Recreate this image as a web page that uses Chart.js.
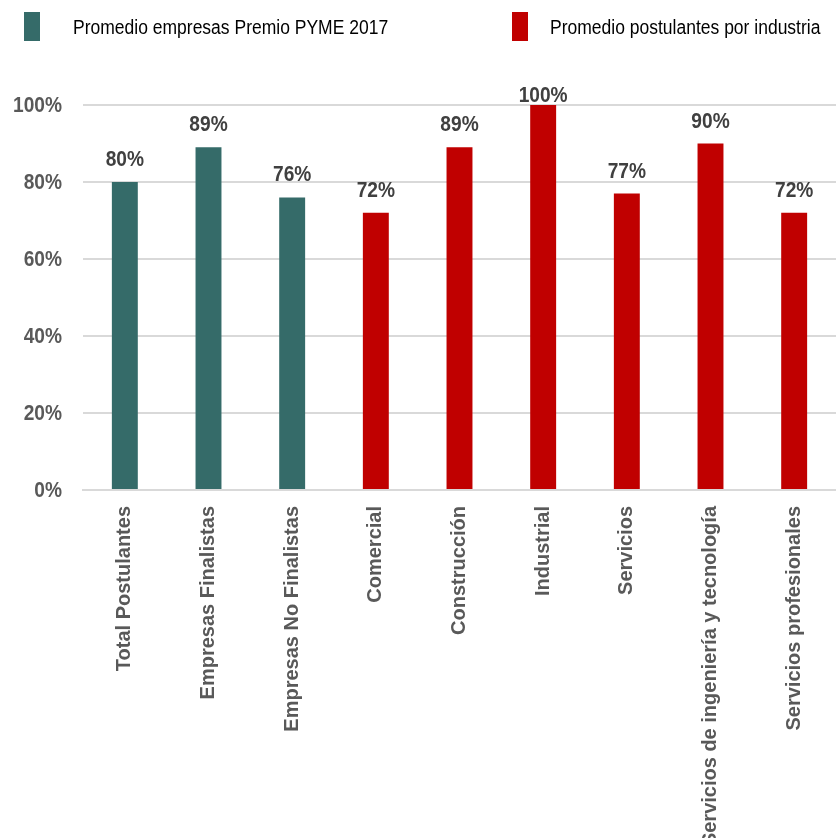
<!DOCTYPE html>
<html>
<head>
<meta charset="utf-8">
<script src="https://cdn.jsdelivr.net/npm/chart.js@4/dist/chart.umd.min.js"></script>
<style>
  html, body { margin: 0; padding: 0; background: #fff; }
  #wrap { position: relative; width: 836px; height: 838px; }
  .leg { position: absolute; top: 12px; height: 29px; font-family: "Liberation Sans", Arial, sans-serif; font-size: 20px; color: #000; white-space: nowrap; }
  .leg span { position: absolute; left: 0; top: 0; width: 16px; height: 29px; }
  .leg b { position: absolute; top: 4px; font-weight: normal; transform: scaleX(0.875); transform-origin: 0 0; }
</style>
</head>
<body>
<div id="wrap">
  <div class="leg" style="left:24px"><span style="background:#356b69"></span><b style="left:49px">Promedio empresas Premio PYME 2017</b></div>
  <div class="leg" style="left:512px"><span style="background:#c00000"></span><b style="left:38px">Promedio postulantes por industria</b></div>
  <canvas id="canvas" width="836" height="838"></canvas>
</div>
<script>
// categorías del eje X
var labels = ["Total Postulantes", "Empresas Finalistas", "Empresas No Finalistas", "Comercial",
  "Construcción", "Industrial", "Servicios", "Servicios de ingeniería y tecnología", "Servicios profesionales"];
// promedio de empresas (verde) y por industria (rojo), en %
var pymeValues = [80, 89, 76, null, null, null, null, null, null];
var industriaValues = [null, null, null, 72, 89, 100, 77, 90, 72];
var yTicks = [0, 20, 40, 60, 80, 100];

var NARROW = 0.87;

// texto en negrita estrechado (imita Arial Narrow)
function narrowText(ctx, text, x, y, align) {
  ctx.save();
  ctx.translate(x, y);
  ctx.scale(NARROW, 1);
  ctx.textAlign = align;
  ctx.fillText(text, 0, 0);
  ctx.restore();
}

// etiquetas del eje Y y valores sobre cada barra
var narrowLabels = {
  id: 'narrowLabels',
  afterDatasetsDraw: function (chart) {
    var ctx = chart.ctx;
    ctx.save();
    ctx.font = 'bold 22px "Liberation Sans", Arial, sans-serif';

    var y = chart.scales.y;
    ctx.fillStyle = '#595959';
    ctx.textBaseline = 'middle';
    y.ticks.forEach(function (t) {
      narrowText(ctx, t.value + '%', y.right - 21, y.getPixelForValue(t.value) + 1, 'right');
    });

    ctx.fillStyle = '#404040';
    ctx.textBaseline = 'alphabetic';
    chart.data.datasets.forEach(function (ds, i) {
      chart.getDatasetMeta(i).data.forEach(function (bar, j) {
        var v = ds.data[j];
        if (v === null) return;
        narrowText(ctx, v + '%', bar.x, Math.max(bar.y - 16, 102), 'center');
      });
    });
    ctx.restore();
  }
};

var ctx = document.getElementById('canvas');
var myChart = new Chart(ctx, {
  type: 'bar',
  data: {
    labels: labels,
    datasets: [
      { label: "Promedio empresas Premio PYME 2017", data: pymeValues, backgroundColor: "#356b69", grouped: false },
      { label: "Promedio postulantes por industria", data: industriaValues, backgroundColor: "#c00000", grouped: false }
    ]
  },
  options: {
    responsive: false,
    animation: false,
    categoryPercentage: 1,
    barPercentage: 0.31,
    layout: { padding: { top: 105, right: 0, left: 0, bottom: 0 } },
    plugins: { legend: { display: false }, tooltip: { enabled: false } },
    scales: {
      x: {
        grid: { display: false },
        border: { color: '#d9d9d9', width: 2 },
        ticks: {
          autoSkip: false, maxRotation: 90, minRotation: 90, padding: 8,
          color: '#595959',
          font: { family: '"Liberation Sans", Arial, sans-serif', size: 20, weight: 'bold' }
        },
        afterFit: function (scale) { scale.height = 348; }
      },
      y: {
        min: 0, max: 100,
        afterBuildTicks: function (scale) { scale.ticks = yTicks.map(function (v) { return { value: v }; }); },
        grid: { color: '#d9d9d9', lineWidth: 2, drawTicks: false },
        border: { display: false },
        ticks: { display: false },
        afterFit: function (scale) { scale.width = 83; }
      }
    }
  },
  plugins: [narrowLabels]
});
</script>
</body>
</html>
